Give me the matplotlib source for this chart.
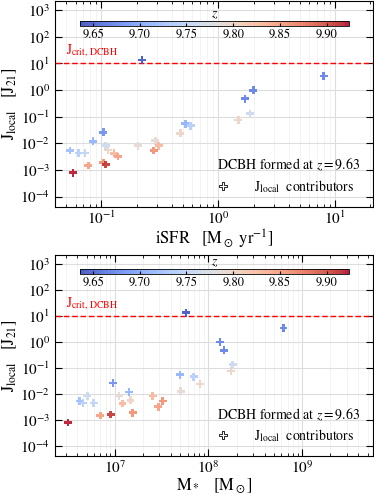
import numpy as np
import matplotlib
matplotlib.use('Agg')
import matplotlib.pyplot as plt
from matplotlib.lines import Line2D

plt.rcParams['font.family'] = 'STIXGeneral'
plt.rcParams['mathtext.fontset'] = 'stix'

# J_local contributors
isfr = [0.222, 7.98, 1.69, 1.99, 1.86, 1.48, 0.521, 0.581, 0.472, 0.1035,
        0.0847, 0.0536, 0.0635, 0.0724, 0.1086, 0.2057, 0.289, 0.1136, 0.1277, 0.138,
        0.309, 0.280, 0.0772, 0.1035, 0.1086, 0.0572]
mstar = [5.76e7, 6.34e8, 1.47e8, 1.33e8, 1.82e8, 1.75e8, 4.96e7, 6.96e7, 8.13e7, 9.6e6,
         1.42e7, 4.22e6, 4.59e6, 5.96e6, 5.1e6, 1.11e7, 5.05e7, 1.47e7, 1.21e7, 2.91e7,
         2.54e7, 3.24e7, 7.03e6, 1.55e7, 9.06e6, 3.16e6]
jlocal = [13.3, 3.36, 0.477, 0.98, 0.131, 0.0747, 0.0543, 0.0458, 0.0236, 0.0257,
          0.0119, 0.00535, 0.00438, 0.00438, 0.0082, 0.0082, 0.0126, 0.00568, 0.00424, 0.00319,
          0.0082, 0.00535, 0.00147, 0.0019, 0.0016, 0.00079]
zred = [9.64, 9.67, 9.67, 9.67, 9.76, 9.80, 9.71, 9.74, 9.80, 9.68,
        9.71, 9.72, 9.74, 9.75, 9.76, 9.79, 9.79, 9.80, 9.83, 9.85,
        9.83, 9.86, 9.85, 9.86, 9.91, 9.92]
z_dcbh = 9.63
j_crit = 10.0
zmin, zmax = 9.636, 9.924

fig = plt.figure(figsize=(3.74, 4.98), dpi=100)
ax1 = fig.add_axes([0.147, 0.584, 0.85, 0.414])
ax2 = fig.add_axes([0.147, 0.084, 0.85, 0.404])

panels = [(ax1, isfr, (0.04, 21), r'$\mathrm{iSFR}\quad[\mathrm{M}_\odot\ \mathrm{yr}^{-1}]$', 0.948),
          (ax2, mstar, (2.3e6, 5.7e9), r'$\mathrm{M}_*\quad[\mathrm{M}_\odot]$', 0.450)]

for ax, xv, xl, xlab, cby in panels:
    sc = ax.scatter(xv, jlocal, c=zred, cmap='coolwarm', vmin=zmin, vmax=zmax,
                    marker='P', s=32, edgecolors='none', alpha=0.9, zorder=3)
    ax.set_xscale('log')
    ax.set_yscale('log')
    ax.set_xlim(*xl)
    ax.set_ylim(4e-5, 2.2e3)
    ax.axhline(j_crit, color='red', ls='--', lw=1, dashes=(4, 2), zorder=2)
    ax.text(0.035, 0.745, r'$\mathrm{J}_{\mathrm{crit,\,DCBH}}$', color='red',
            fontsize=10, transform=ax.transAxes)
    ax.grid(True, which='major', color='#dddddd', lw=0.8)
    ax.grid(True, which='minor', color='#eeeeee', lw=0.5)
    ax.set_axisbelow(True)
    ax.tick_params(which='both', direction='in', top=True, right=True, labelsize=11)
    ax.tick_params(which='major', length=5)
    ax.tick_params(which='minor', length=2.5)
    ax.tick_params(axis='x', pad=2)
    ax.set_yticks([1e-4, 1e-3, 1e-2, 1e-1, 1, 10, 100, 1000])
    ax.set_ylabel(r'$\mathrm{J}_{\mathrm{local}}\quad[\mathrm{J}_{21}]$', fontsize=12, labelpad=1)
    ax.set_xlabel(xlab, fontsize=12, labelpad=0.5)
    ax.text(0.96, 0.205, r'DCBH formed at $z = %.2f$' % z_dcbh, fontsize=10,
            ha='right', va='center', transform=ax.transAxes)
    h = Line2D([], [], marker='P', ls='none', mfc='white', mec='black', mew=0.6, ms=6)
    ax.legend([h], [r'$\mathrm{J}_{\mathrm{local}}$  contributors'], loc='lower right',
              frameon=False, fontsize=10, bbox_to_anchor=(0.98, 0.0), handletextpad=1.2)
    cax = fig.add_axes([0.214, cby, 0.719, 0.0094])
    cb = fig.colorbar(sc, cax=cax, orientation='horizontal')
    cb.set_ticks([9.65, 9.70, 9.75, 9.80, 9.85, 9.90])
    cb.ax.tick_params(labelsize=9, direction='in', length=2, pad=2)
    cb.outline.set_linewidth(0.6)
    cb.ax.set_title(r'$z$', fontsize=10, pad=0)

fig.savefig('out.png', dpi=100)
